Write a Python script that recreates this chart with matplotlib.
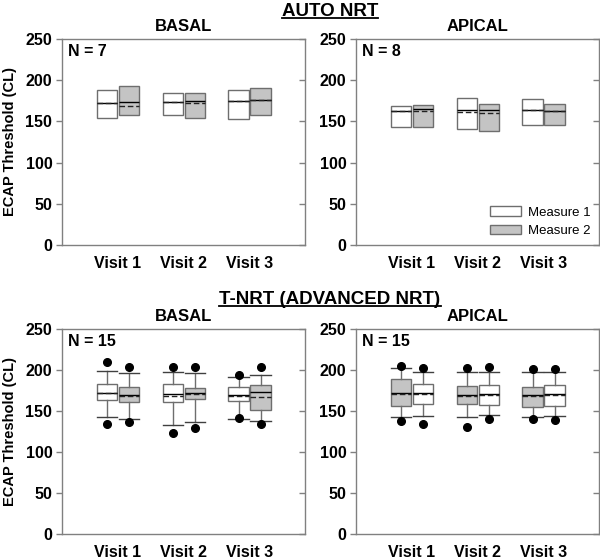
import matplotlib
matplotlib.use("Agg")
import matplotlib.pyplot as plt
from matplotlib.patches import Patch
from matplotlib.lines import Line2D

plt.rcParams['font.family'] = ['Liberation Sans', 'DejaVu Sans']
plt.rcParams['font.weight'] = 'bold'

visits = ["Visit 1", "Visit 2", "Visit 3"]
yticks = [0, 50, 100, 150, 200, 250]

# ---------- AUTO NRT, BASAL (N = 7): white = Measure 1, gray = Measure 2
ab_m1_q1 = [154.5, 157.7, 153.0]
ab_m1_med = [172.8, 173.6, 175.0]
ab_m1_q3 = [187.8, 185.0, 187.8]
ab_m1_mean = [172.0, 173.0, 175.0]
ab_m2_q1 = [157.7, 154.0, 158.0]
ab_m2_med = [174.0, 174.8, 176.0]
ab_m2_q3 = [193.5, 185.0, 191.0]
ab_m2_mean = [169.0, 172.4, 176.0]

# ---------- AUTO NRT, APICAL (N = 8)
aa_m1_q1 = [143.0, 140.5, 145.3]
aa_m1_med = [162.8, 164.4, 164.0]
aa_m1_q3 = [168.8, 178.0, 177.0]
aa_m1_mean = [162.5, 162.0, 163.5]
aa_m2_q1 = [143.7, 138.0, 145.3]
aa_m2_med = [165.6, 163.6, 162.8]
aa_m2_q3 = [169.6, 171.0, 171.7]
aa_m2_mean = [162.8, 160.0, 162.5]

# ---------- T-NRT, BASAL (N = 15): left box white, right box gray
tb_l_lo = [143.2, 133.0, 140.8]
tb_l_q1 = [163.0, 160.7, 161.9]
tb_l_med = [172.4, 170.8, 169.2]
tb_l_mean = [172.0, 168.8, 168.4]
tb_l_q3 = [182.6, 183.4, 179.7]
tb_l_hi = [198.8, 197.2, 191.0]
tb_l_out_lo = [134.0, 123.0, 141.2]
tb_l_out_hi = [210.0, 204.0, 193.5]
tb_r_lo = [140.4, 137.0, 137.5]
tb_r_q1 = [161.5, 164.3, 151.0]
tb_r_med = [169.6, 171.6, 173.2]
tb_r_mean = [168.4, 170.8, 167.6]
tb_r_q3 = [179.7, 177.7, 181.8]
tb_r_hi = [196.8, 196.0, 193.5]
tb_r_out_lo = [137.0, 129.0, 134.0]
tb_r_out_hi = [204.0, 204.0, 203.2]

# ---------- T-NRT, APICAL (N = 15): left box gray, right box white
ta_l_lo = [143.2, 142.4, 142.4]
ta_l_q1 = [156.6, 158.6, 154.6]
ta_l_med = [172.4, 169.2, 169.2]
ta_l_mean = [171.2, 168.5, 168.0]
ta_l_q3 = [189.5, 181.0, 179.3]
ta_l_hi = [202.8, 197.2, 198.0]
ta_l_out_lo = [138.0, 131.0, 140.8]
ta_l_out_hi = [205.3, 202.0, 200.8]
ta_r_lo = [143.6, 145.3, 143.6]
ta_r_q1 = [158.6, 157.8, 155.8]
ta_r_med = [171.6, 170.8, 171.2]
ta_r_mean = [170.5, 170.0, 170.0]
ta_r_q3 = [183.0, 181.4, 182.2]
ta_r_hi = [197.2, 197.2, 197.2]
ta_r_out_lo = [134.0, 140.0, 139.6]
ta_r_out_hi = [202.0, 203.2, 201.6]

WHITE = "#ffffff"
GRAY = "#c4c4c4"
EDGE = "#6e6e6e"
SPINE = "#808080"


def stats_list(q1, med, q3, mean, lo=None, hi=None, out_lo=None, out_hi=None):
    out = []
    for i in range(len(q1)):
        d = dict(q1=q1[i], med=med[i], q3=q3[i], mean=mean[i],
                 whislo=lo[i] if lo else q1[i],
                 whishi=hi[i] if hi else q3[i],
                 fliers=[out_lo[i], out_hi[i]] if out_lo else [])
        out.append(d)
    return out


def draw(ax, stats, offset, color, whiskers):
    pos = [v + offset for v in range(1, len(stats) + 1)]
    ax.bxp(stats, positions=pos, widths=0.31, capwidths=0.31,
           patch_artist=True, showmeans=True, meanline=True,
           showcaps=whiskers, showfliers=whiskers, manage_ticks=False,
           boxprops=dict(facecolor=color, edgecolor=EDGE, linewidth=1.0),
           medianprops=dict(color="black", linewidth=1.0),
           meanprops=dict(color="#222222", linestyle=(0, (4, 2)), linewidth=1.0),
           whiskerprops=dict(color=EDGE, linewidth=1.0),
           capprops=dict(color="#404040", linewidth=1.0),
           flierprops=dict(marker="o", markerfacecolor="black",
                           markeredgecolor="black", markersize=5.5))


fig = plt.figure(figsize=(6.0, 5.59), dpi=100)
W = 0.405
axes = {
    "tl": fig.add_axes([62 / 600, 1 - 245 / 559, W, 206 / 559]),
    "tr": fig.add_axes([356 / 600, 1 - 245 / 559, W, 206 / 559]),
    "bl": fig.add_axes([62 / 600, 1 - 534 / 559, W, 205 / 559]),
    "br": fig.add_axes([356 / 600, 1 - 534 / 559, W, 205 / 559]),
}

off = 0.167
draw(axes["tl"], stats_list(ab_m1_q1, ab_m1_med, ab_m1_q3, ab_m1_mean), -off, WHITE, False)
draw(axes["tl"], stats_list(ab_m2_q1, ab_m2_med, ab_m2_q3, ab_m2_mean), off, GRAY, False)
draw(axes["tr"], stats_list(aa_m1_q1, aa_m1_med, aa_m1_q3, aa_m1_mean), -off, WHITE, False)
draw(axes["tr"], stats_list(aa_m2_q1, aa_m2_med, aa_m2_q3, aa_m2_mean), off, GRAY, False)
draw(axes["bl"], stats_list(tb_l_q1, tb_l_med, tb_l_q3, tb_l_mean, tb_l_lo, tb_l_hi,
                            tb_l_out_lo, tb_l_out_hi), -off, WHITE, True)
draw(axes["bl"], stats_list(tb_r_q1, tb_r_med, tb_r_q3, tb_r_mean, tb_r_lo, tb_r_hi,
                            tb_r_out_lo, tb_r_out_hi), off, GRAY, True)
draw(axes["br"], stats_list(ta_l_q1, ta_l_med, ta_l_q3, ta_l_mean, ta_l_lo, ta_l_hi,
                            ta_l_out_lo, ta_l_out_hi), -off, GRAY, True)
draw(axes["br"], stats_list(ta_r_q1, ta_r_med, ta_r_q3, ta_r_mean, ta_r_lo, ta_r_hi,
                            ta_r_out_lo, ta_r_out_hi), off, WHITE, True)

n_labels = {"tl": "N = 7", "tr": "N = 8", "bl": "N = 15", "br": "N = 15"}
titles = {"tl": "BASAL", "tr": "APICAL", "bl": "BASAL", "br": "APICAL"}

for key, ax in axes.items():
    ax.set_xlim(0.15, 3.84)
    ax.set_ylim(0, 250)
    ax.set_yticks(yticks)
    ax.set_yticklabels([str(t) for t in yticks], fontsize=11.5, fontweight="bold")
    ax.set_xticks([1, 2, 3])
    ax.set_xticklabels(visits, fontsize=11.5, fontweight="bold")
    ax.tick_params(axis="x", length=0, pad=8)
    ax.tick_params(axis="y", direction="out", length=4, width=1, color=SPINE, pad=3)
    sec = ax.secondary_yaxis("right")
    sec.set_yticks(yticks)
    sec.tick_params(direction="in", length=4, width=1, color=SPINE, labelright=False)
    sec.spines["right"].set_visible(False)
    for sp in ax.spines.values():
        sp.set_color(SPINE)
        sp.set_linewidth(1.0)
    ax.text(0.025, 0.975, n_labels[key], transform=ax.transAxes, ha="left", va="top",
            fontsize=11.5, fontweight="bold")
    ax.set_title(titles[key], fontsize=12, fontweight="bold", pad=6)
    if key in ("tl", "bl"):
        ax.set_ylabel("ECAP Threshold (CL)", fontsize=10.5, fontweight="bold", labelpad=6)

leg = axes["tr"].legend(
    handles=[Patch(facecolor=WHITE, edgecolor=EDGE, label="Measure 1"),
             Patch(facecolor=GRAY, edgecolor=EDGE, label="Measure 2")],
    loc="lower right", frameon=False, prop=dict(size=9.5, weight="normal"),
    handlelength=2.3, handleheight=0.75, handletextpad=0.6, labelspacing=0.45,
    borderaxespad=0.2)

headers = [("AUTO NRT", 330 / 600, 1 - 11 / 559), ("T-NRT (ADVANCED NRT)", 330 / 600, 1 - 299 / 559)]
txts = []
for s, x, y in headers:
    txts.append(fig.text(x, y, s, ha="center", va="center", fontsize=13.5, fontweight="bold"))

fig.canvas.draw()
r = fig.canvas.get_renderer()
inv = fig.transFigure.inverted()
for t in txts:
    bb = t.get_window_extent(r)
    (x0, y0), (x1, y1) = inv.transform([(bb.x0, bb.y0), (bb.x1, bb.y1)])
    fig.add_artist(Line2D([x0, x1], [y0 + 0.002, y0 + 0.002], transform=fig.transFigure,
                          color="black", linewidth=1.3))

fig.savefig("out.png", dpi=100)
